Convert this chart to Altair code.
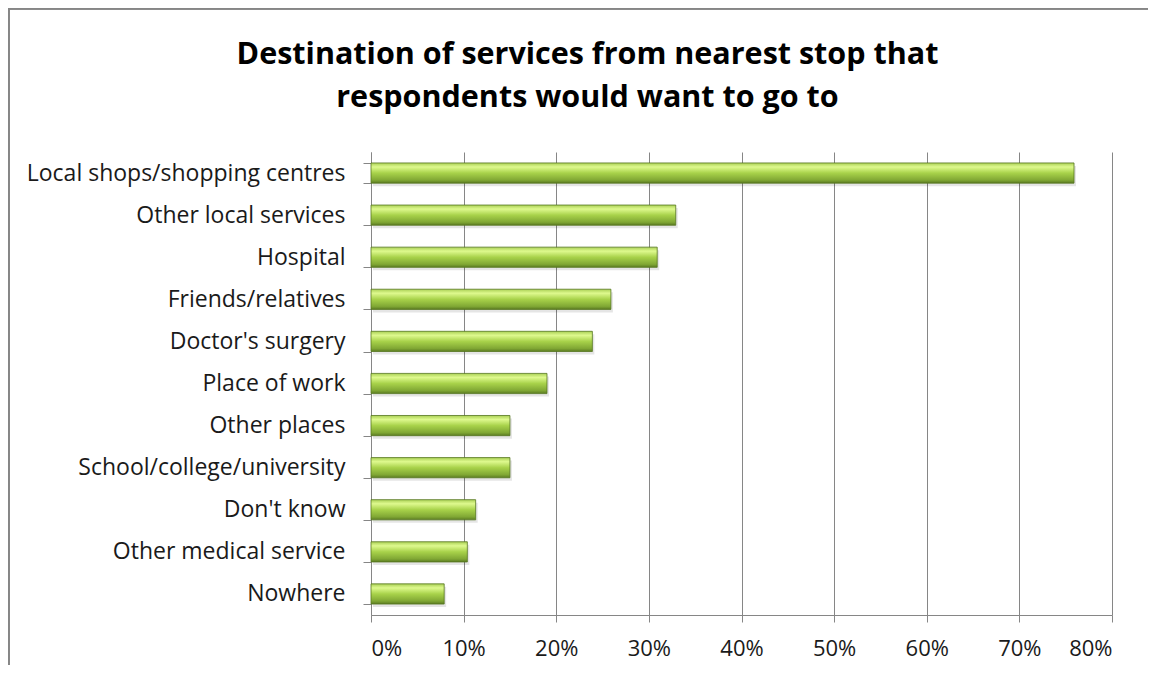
import altair as alt
import pandas as pd

categories = [
    "Local shops/shopping centres",
    "Other local services",
    "Hospital",
    "Friends/relatives",
    "Doctor's surgery",
    "Place of work",
    "Other places",
    "School/college/university",
    "Don't know",
    "Other medical service",
    "Nowhere",
]
values = [75.9, 32.9, 30.9, 25.9, 23.9, 19.0, 15.0, 15.0, 11.3, 10.4, 7.9]
tick_values = [0, 10, 20, 30, 40, 50, 60, 70, 80]

title_lines = ["Destination of services from nearest stop that",
               "respondents would want to go to"]

df = pd.DataFrame({"cat": categories, "val": values})

FONT = "Open Sans"
GRAY = "#868686"

y_enc = alt.Y(
    "cat:N",
    sort=categories,
    title=None,
    scale=alt.Scale(paddingInner=0.52, paddingOuter=0.26),
    axis=alt.Axis(
        tickBand="extent",
        ticks=True,
        tickSize=8,
        tickColor=GRAY,
        domainColor=GRAY,
        labelFont=FONT,
        labelFontSize=23,
        labelColor="#1a1a1a",
        labelPadding=18,
        labelLimit=400,
        grid=False,
    ),
)
x_enc = alt.X(
    "val:Q",
    title=None,
    scale=alt.Scale(domain=[0, 80], nice=False),
    axis=alt.Axis(
        values=tick_values,
        labelExpr="datum.value + '%'",
        grid=True,
        gridColor=GRAY,
        gridWidth=1,
        tickSize=7,
        tickColor=GRAY,
        domainColor=GRAY,
        labelFont=FONT,
        labelFontSize=22,
        labelColor="#1a1a1a",
        labelPadding=16,
    ),
)

gradient = alt.Gradient(
    gradient="linear",
    x1=0, y1=0, x2=0, y2=1,
    stops=[
        alt.GradientStop(offset=0.0, color="#aad055"),
        alt.GradientStop(offset=0.2, color="#def98e"),
        alt.GradientStop(offset=0.5, color="#a8d24a"),
        alt.GradientStop(offset=0.85, color="#80a734"),
        alt.GradientStop(offset=1.0, color="#5b7b22"),
    ],
)

base = alt.Chart(df)

shadow = base.mark_bar(color="#000000", opacity=0.10, xOffset=2, yOffset=3).encode(
    x=x_enc, y=y_enc
)
bars = base.mark_bar(color=gradient, stroke="#56761f", strokeWidth=0.8).encode(
    x=x_enc, y=y_enc
)

border_top = alt.Chart(df).mark_rule(color=GRAY, strokeWidth=2).encode(
    x=alt.value(-363), x2=alt.value(900), y=alt.value(-143.7)
)
border_left = alt.Chart(df).mark_rule(color=GRAY, strokeWidth=2).encode(
    x=alt.value(-362.7), y=alt.value(-144), y2=alt.value(700)
)

chart = (
    alt.layer(shadow, bars, border_top, border_left)
    .properties(
        width=741,
        height=463,
        autosize="none",
        padding={"left": 363, "top": 144, "right": 36, "bottom": 50},
        title=alt.TitleParams(
            text=title_lines,
            font=FONT,
            fontSize=30.5,
            fontWeight="bold",
            color="#000000",
            anchor="middle",
            dx=-154,
            lineHeight=43,
            baseline="top",
            offset=-106,
        ),
    )
    .configure_view(stroke=None)
)

chart.save("out.html", embed_options={"renderer": "svg", "actions": False})
